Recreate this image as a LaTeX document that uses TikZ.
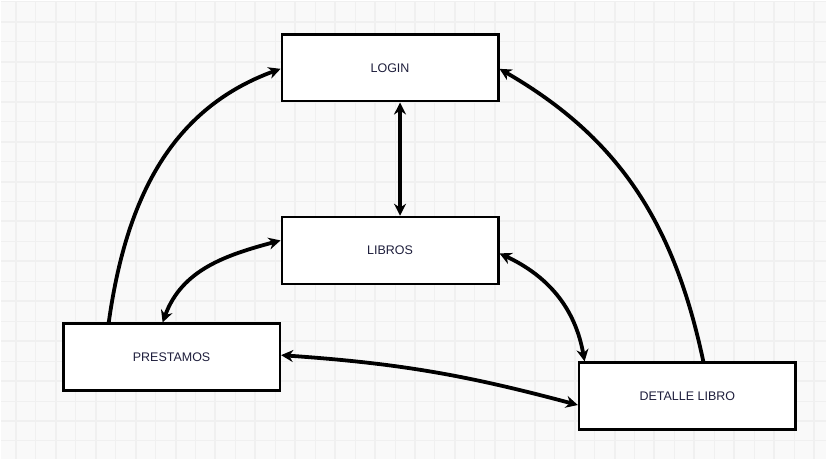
\documentclass[tikz,border=0pt]{standalone}
\usepackage{fontspec}
\setmainfont{Liberation Sans}
\usepackage{tikz}
\usepackage{xcolor}
\usetikzlibrary{arrows.meta}
\definecolor{paper}{HTML}{F9F9F9}
\definecolor{gridl}{HTML}{F0F0F0}
\definecolor{ink}{HTML}{1E1E3C}

\begin{document}
\begin{tikzpicture}[x=1pt,y=1pt]%
  \tikzstyle{boxn}=[rectangle,draw=black,fill=white,line width=2.5pt,minimum width=217pt,minimum height=67pt,text=ink,font=\fontsize{12.5}{15}\selectfont]
  \tikzstyle{arrn}=[line width=3.8pt,-{Stealth[length=12pt,width=12pt]}]
  \tikzstyle{arrb}=[line width=3.8pt,{Stealth[length=12pt,width=12pt]}-{Stealth[length=12pt,width=12pt]}]
  % paper and grid
  \fill[paper] (0,0) rectangle (827,459);
  \foreach \x in {35,75,...,815} \draw[gridl,line width=1pt] (\x,0) -- (\x,459);
  \foreach \x in {15,55,...,815} \draw[gridl,line width=2pt] (\x,0) -- (\x,459);
  \foreach \y in {18,58,...,458} \draw[gridl,line width=1pt] (0,\y) -- (827,\y);
  \foreach \y in {38,78,...,458} \draw[gridl,line width=2pt] (0,\y) -- (827,\y);
  % screens
  \node(login)[boxn] at (390,392) {LOGIN};
  \node(libros)[boxn] at (390,209) {LIBROS};
  \node(prest)[boxn] at (171,102) {PRESTAMOS};
  \node(det)[boxn] at (688,63) {DETALLE LIBRO};
  % navigation
  \draw[arrn] ([xshift=-63pt]prest.north) to[out=82,in=200] ([yshift=-1pt]login.west);
  \draw[arrn] ([xshift=16pt]det.north) to[out=102,in=-30] ([yshift=-1pt]login.east);
  \draw[arrb] ([xshift=10pt]login.south) -- ([xshift=10pt]libros.north);
  \draw[arrb] ([yshift=10pt]libros.west) to[out=195,in=70] ([xshift=-9pt]prest.north);
  \draw[arrb] ([yshift=-3pt]libros.east) to[out=-25,in=100] ([xshift=-103pt]det.north);
  \draw[arrb] ([yshift=2pt]prest.east) to[out=-4,in=165] ([yshift=-9pt]det.west);
\end{tikzpicture}
\end{document}
